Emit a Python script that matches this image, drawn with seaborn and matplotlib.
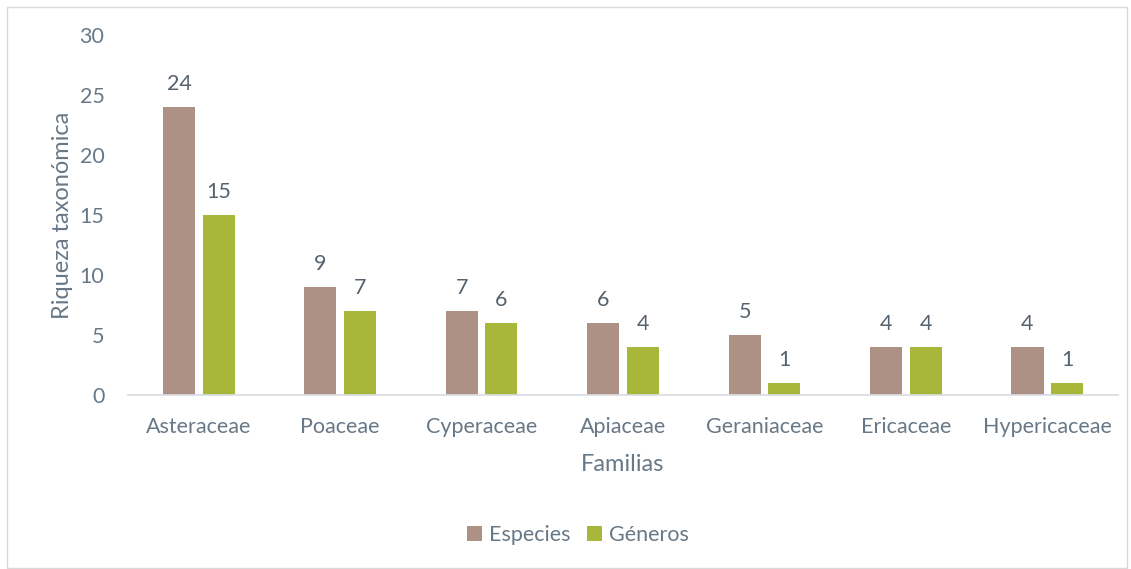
import matplotlib
matplotlib.use("Agg")
import matplotlib.pyplot as plt
import pandas as pd
import seaborn as sns
from matplotlib.patches import Rectangle

familias = ["Asteraceae", "Poaceae", "Cyperaceae", "Apiaceae",
            "Geraniaceae", "Ericaceae", "Hypericaceae"]
especies = [24, 9, 7, 6, 5, 4, 4]
generos = [15, 7, 6, 4, 1, 4, 1]
series = ["Especies", "Géneros"]
colores = ["#AD9184", "#A8B73A"]

df = pd.DataFrame({
    "Familia": familias * 2,
    "Serie": [series[0]] * len(familias) + [series[1]] * len(familias),
    "Valor": especies + generos,
})

sns.set_theme(style="white")
plt.rcParams["font.family"] = ["Lato", "DejaVu Sans"]
txt = "#687886"
fs = 15.5

fig = plt.figure(figsize=(11.31, 5.69), dpi=100)
ax = fig.add_axes([0.1132, 0.3058, 0.8753, 0.6327])

sns.barplot(data=df, x="Familia", y="Valor", hue="Serie", palette=colores,
            saturation=1, width=0.56, gap=0.19, linewidth=0, ax=ax, legend=True)

for cont in ax.containers:
    ax.bar_label(cont, padding=9, fontsize=fs, color="#56636F")

ax.set_ylim(0, 30)
ax.set_yticks(range(0, 31, 5))
ax.set_xlim(-0.5, len(familias) - 0.5)
ax.tick_params(axis="both", length=0, labelsize=fs, colors=txt)
ax.tick_params(axis="x", pad=16)
ax.tick_params(axis="y", pad=17)
for s in ["top", "right", "left"]:
    ax.spines[s].set_visible(False)
ax.spines["bottom"].set_color("#D9DDE2")
ax.set_xlabel("Familias", fontsize=17, color=txt, labelpad=12)
ax.set_ylabel("Riqueza taxonómica", fontsize=17, color=txt, labelpad=5)

ax.legend(loc="center", bbox_to_anchor=(0.4545, -0.39), ncol=2, frameon=False,
          fontsize=fs, labelcolor=txt, handlelength=0.7, handleheight=0.7,
          handletextpad=0.35, columnspacing=0.75)

fig.patches.append(Rectangle((7 / 1131, 0.002), 1120 / 1131, 1 - 7 / 569 - 0.002,
                             transform=fig.transFigure, fill=False,
                             edgecolor="#D9D9D9", linewidth=1))

fig.savefig("out.png", dpi=100)
